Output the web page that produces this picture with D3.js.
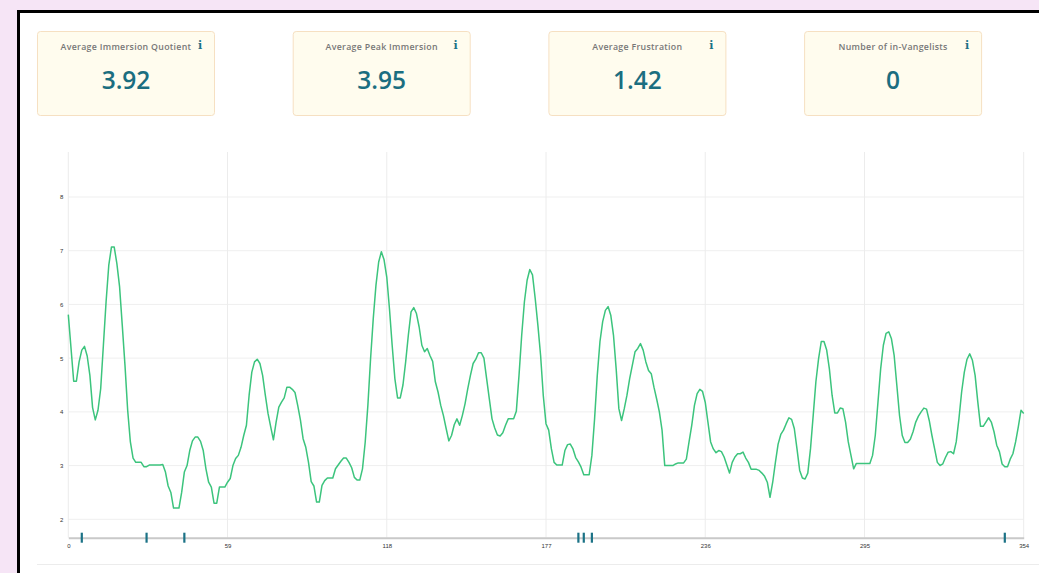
<!DOCTYPE html>
<html>
<head>
<meta charset="utf-8">
<script src="https://cdn.jsdelivr.net/npm/d3@7"></script>
<style>
  html, body { margin: 0; padding: 0; background: #f6e5f6; }
  svg { display: block; }
</style>
</head>
<body>
<div id="chart"></div>
<script>
// constants
const W = 1039, H = 573;
const margin = {top: 152, right: 15.3, bottom: 35.3, left: 68.3};

// summary cards
const cardTitles = ['Average Immersion Quotient', 'Average Peak Immersion', 'Average Frustration', 'Number of in-Vangelists'];
const cardValues = ['3.92', '3.95', '1.42', '0'];

// immersion per session index
const sessionIdx = [
  0,2,3,4,5,6,7,8,9,10,11,12,13,14,15,16,17,18,19,20,21,22,23,24,25,27,28,29,30,34,35,36,37,38,39,41,42,43,44,45,
  46,47,48,49,50,51,52,53,54,55,56,58,59,60,61,62,63,64,65,66,67,68,69,70,71,72,73,74,75,76,77,78,79,80,81,82,83,84,85,86,
  87,88,89,90,91,92,93,94,95,96,98,99,100,101,102,103,104,105,106,107,108,109,110,111,112,113,114,115,116,117,118,119,120,
  121,122,123,124,125,126,127,128,129,130,131,132,133,134,135,136,137,138,139,140,141,142,143,144,145,146,147,148,149,150,
  151,152,153,154,155,156,157,158,159,160,161,162,163,165,166,167,168,169,170,171,172,173,174,175,176,177,178,179,180,181,
  183,184,185,186,187,188,189,190,191,193,194,195,196,197,198,199,200,201,202,203,204,205,206,207,208,209,210,211,212,213,
  214,215,216,217,218,219,220,221,224,225,226,228,229,230,231,232,233,234,235,236,237,238,239,240,241,242,243,244,245,246,
  247,248,249,250,251,252,253,255,256,257,258,259,260,261,262,263,264,265,266,267,268,269,270,271,272,273,274,275,276,277,
  278,279,280,281,282,283,284,285,286,287,288,289,290,291,292,297,298,299,300,301,302,303,304,305,306,307,308,309,310,311,
  312,313,314,315,316,317,318,319,320,321,322,323,324,325,326,327,328,329,330,331,332,333,334,335,336,337,338,339,340,341,
  342,343,344,345,346,347,348,349,350,351,352,353,354
];
const immersion = [
  5.81,4.57,4.57,4.93,5.15,5.22,5.04,4.68,4.08,3.85,4.03,4.43,5.24,6.05,6.73,7.07,7.07,6.76,6.33,5.61,4.87,4.03,3.44,3.14,3.06,3.06,2.98,2.98,3.01,3.01,3.02,2.88,2.62,2.50,2.21,2.21,2.50,2.88,3.00,3.28,
  3.46,3.53,3.53,3.45,3.28,2.94,2.69,2.60,2.30,2.30,2.60,2.60,2.69,2.76,3.00,3.13,3.19,3.34,3.56,3.75,4.31,4.74,4.93,4.98,4.90,4.68,4.31,3.97,3.72,3.48,3.81,4.09,4.18,4.26,4.46,4.46,4.42,4.36,4.12,3.85,
  3.50,3.34,3.06,2.70,2.62,2.32,2.32,2.63,2.72,2.77,2.77,2.94,3.01,3.08,3.14,3.14,3.06,2.96,2.78,2.73,2.73,2.94,3.43,4.12,4.99,5.74,6.36,6.79,6.98,6.83,6.51,5.92,5.24,
  4.62,4.26,4.26,4.50,4.93,5.43,5.86,5.94,5.83,5.58,5.24,5.12,5.18,5.05,4.94,4.56,4.37,4.12,3.93,3.69,3.46,3.56,3.76,3.87,3.75,3.93,4.15,4.43,4.68,4.90,
  4.98,5.10,5.10,5.00,4.62,4.24,3.87,3.70,3.57,3.55,3.61,3.75,3.87,3.87,4.01,4.68,5.43,6.05,6.45,6.65,6.55,6.11,5.61,5.05,4.30,3.78,3.66,3.31,3.06,3.01,
  3.01,3.28,3.39,3.40,3.31,3.15,3.07,2.97,2.83,2.83,3.19,3.87,4.68,5.31,5.68,5.89,5.96,5.80,5.43,4.80,4.06,3.84,4.06,4.31,4.62,4.87,5.12,5.18,5.27,5.15,
  4.93,4.77,4.71,4.46,4.24,4.00,3.66,3.00,3.00,3.03,3.05,3.05,3.12,3.44,3.75,4.12,4.34,4.42,4.38,4.18,3.81,3.44,3.31,3.24,3.28,3.26,3.16,3.01,2.86,3.06,
  3.16,3.22,3.22,3.25,3.14,3.06,2.93,2.93,2.91,2.86,2.80,2.69,2.41,2.69,3.06,3.40,3.58,3.66,3.78,3.89,3.86,3.69,3.31,2.91,2.77,2.75,2.86,3.31,3.93,4.56,
  4.99,5.31,5.31,5.15,4.80,4.31,3.98,3.98,4.07,4.06,3.81,3.44,3.19,2.94,3.04,3.04,3.19,3.56,4.18,4.80,5.24,5.46,5.49,5.36,5.05,4.49,3.93,3.56,3.43,3.43,
  3.49,3.63,3.81,3.92,4.00,4.07,4.05,3.84,3.56,3.31,3.06,3.00,3.03,3.15,3.25,3.26,3.22,3.44,3.87,4.37,4.74,4.98,5.08,4.96,4.68,4.18,3.73,3.73,3.81,3.89,
  3.81,3.63,3.38,3.26,3.03,2.98,2.98,3.12,3.22,3.44,3.72,4.03,3.97
];

// sessions flagged on the axis
const flagged = [5, 29, 43, 189, 191, 194, 347];

// tick labels
const xTicks = [0, 59, 118, 177, 236, 295, 354];
const yTicks = [2, 3, 4, 5, 6, 7, 8];

const data = sessionIdx.map((s, i) => ({s: s, v: immersion[i]}));

const svg = d3.select('#chart').append('svg')
    .attr('width', W)
    .attr('height', H);

// page panel
svg.append('rect')
    .attr('x', 18.5).attr('y', 11.5)
    .attr('width', W + 40).attr('height', H + 40)
    .attr('fill', '#fff')
    .attr('stroke', '#000')
    .attr('stroke-width', 3);

// cards
const cardW = 177, cardH = 84, cardGap = 255.7;
const cards = svg.selectAll('g.card')
    .data(cardTitles)
    .enter()
    .append('g')
    .attr('class', 'card')
    .attr('transform', (d, i) => `translate(${37.5 + i * cardGap}, 31.5)`);

cards.append('rect')
    .attr('width', cardW).attr('height', cardH)
    .attr('rx', 3)
    .attr('fill', '#fffcee')
    .attr('stroke', '#f6e0c2');

cards.append('text')
    .attr('x', cardW / 2).attr('y', 18.5)
    .attr('text-anchor', 'middle')
    .style('font-family', '"Open Sans", sans-serif')
    .style('font-weight', 600)
    .style('font-size', '8.8px')
    .style('letter-spacing', '0.3px')
    .attr('fill', '#777')
    .text(d => d);

cards.append('text')
    .attr('x', cardW - 14.5).attr('y', 17.5)
    .attr('text-anchor', 'middle')
    .style('font-family', '"DejaVu Serif", serif')
    .style('font-weight', 'bold')
    .style('font-size', '11px')
    .attr('fill', '#1b7286')
    .text('i');

cards.append('text')
    .attr('x', cardW / 2).attr('y', 57.5)
    .attr('text-anchor', 'middle')
    .style('font-family', '"Open Sans", sans-serif')
    .style('font-weight', 600)
    .style('font-size', '24.5px')
    .attr('fill', '#1b6e80')
    .text((d, i) => cardValues[i]);

// scales
const x = d3.scaleLinear()
    .domain([0, 354])
    .range([margin.left, W - margin.right]);

const y = d3.scaleLinear()
    .domain([d3.min(immersion) * 0.75, d3.max(immersion) * 1.25])
    .range([H - margin.bottom, margin.top]);

// grid
const grid = svg.append('g').attr('class', 'grid');
grid.selectAll('line.h')
    .data(yTicks)
    .enter()
    .append('line')
    .attr('class', 'h')
    .attr('x1', x(0)).attr('x2', x(354))
    .attr('y1', d => y(d)).attr('y2', d => y(d))
    .attr('stroke', '#efefef');
grid.selectAll('line.v')
    .data(xTicks)
    .enter()
    .append('line')
    .attr('class', 'v')
    .attr('x1', d => x(d)).attr('x2', d => x(d))
    .attr('y1', margin.top).attr('y2', H - margin.bottom)
    .attr('stroke', '#ececec');

// axes
const xAxis = svg.append('g')
    .attr('transform', `translate(0,${H - margin.bottom})`)
    .call(d3.axisBottom(x).tickValues(xTicks).tickSize(0).tickPadding(6));
xAxis.select('.domain').attr('stroke', '#c9c9c9').attr('stroke-width', 2);
xAxis.selectAll('text')
    .style('font-family', '"Liberation Sans", Arial, sans-serif')
    .style('font-size', '6px')
    .attr('fill', '#333');

const yAxis = svg.append('g')
    .attr('transform', `translate(${margin.left},0)`)
    .call(d3.axisLeft(y).tickValues(yTicks).tickSize(0).tickPadding(5));
yAxis.select('.domain').remove();
yAxis.selectAll('text')
    .style('font-family', '"Liberation Sans", Arial, sans-serif')
    .style('font-size', '6px')
    .attr('fill', '#333');

// line
const line = d3.line()
    .x(d => x(d.s))
    .y(d => y(d.v));

svg.append('path')
    .datum(data)
    .attr('fill', 'none')
    .attr('stroke', '#3cc47d')
    .attr('stroke-width', 1.5)
    .attr('stroke-linejoin', 'round')
    .attr('d', line);

// flagged sessions
svg.selectAll('rect.flag')
    .data(flagged)
    .enter()
    .append('rect')
    .attr('class', 'flag')
    .attr('x', d => x(d) - 1.1)
    .attr('y', H - margin.bottom - 5)
    .attr('width', 2.2)
    .attr('height', 10)
    .attr('fill', '#1b7286');

// bottom separator
svg.append('line')
    .attr('x1', 37).attr('x2', W)
    .attr('y1', 564.5).attr('y2', 564.5)
    .attr('stroke', '#ececec');
</script>
</body>
</html>
